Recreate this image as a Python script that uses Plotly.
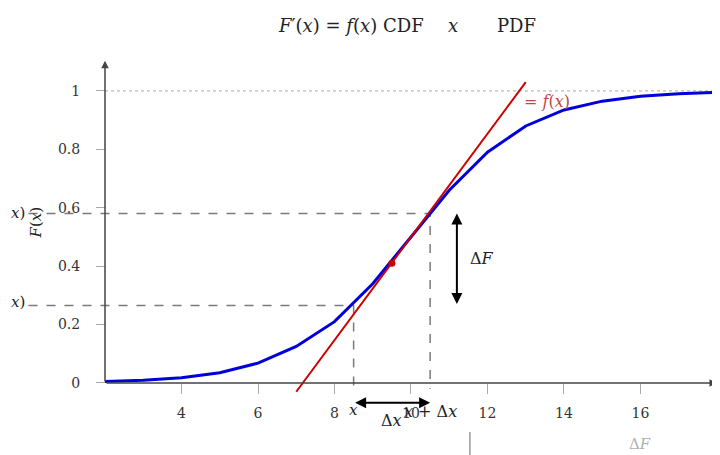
import plotly.graph_objects as go

# CDF at integer x
x_vals = [2, 3, 4, 5, 6, 7, 8, 9, 10, 11, 12, 13, 14, 15, 16, 17, 18]
cdf_vals = [0.005, 0.009, 0.018, 0.035, 0.068, 0.125, 0.21, 0.34, 0.50,
            0.66, 0.79, 0.88, 0.935, 0.965, 0.982, 0.99, 0.995]

# tangent line and touching point
tangent_x = [7, 13]
tangent_y = [-0.03, 1.03]
point_x = [9.5]
point_y = [0.41]

# x, x+dx and the CDF values there
x_lo, x_hi = 8.5, 10.5
F_lo, F_hi = 0.265, 0.58

x_ticks = [4, 6, 8, 10, 12, 14, 16]
y_ticks = [0, 0.2, 0.4, 0.6, 0.8, 1]
y_tick_text = ["0", "0.2", "0.4", "0.6", "0.8", "1"]

# whole page is the plot area (page body has an 8px margin)
X_RANGE = [-0.536, 18.288]
Y_RANGE = [-0.274, 1.284]

SERIF = "DejaVu Serif, Liberation Serif, serif"
DASH_GREY = "#7a7a7a"

fig = go.Figure()

# dotted line at F = 1
fig.add_trace(go.Scatter(x=[2, 18], y=[1, 1], mode="lines",
                         line=dict(color="#bbbbbb", width=1.2, dash="dot"),
                         hoverinfo="skip"))

# dashed guides
fig.add_trace(go.Scatter(x=[0, x_hi, x_hi], y=[F_hi, F_hi, -0.02], mode="lines",
                         line=dict(color=DASH_GREY, width=1.5, dash="dash"),
                         hoverinfo="skip"))
fig.add_trace(go.Scatter(x=[0, x_lo, x_lo], y=[F_lo, F_lo, -0.02], mode="lines",
                         line=dict(color=DASH_GREY, width=1.5, dash="dash"),
                         hoverinfo="skip"))

# CDF curve
fig.add_trace(go.Scatter(x=x_vals, y=cdf_vals, mode="lines",
                         line=dict(color="#0000dd", width=3),
                         hoverinfo="skip"))

# tangent
fig.add_trace(go.Scatter(x=tangent_x, y=tangent_y, mode="lines",
                         line=dict(color="#cc0000", width=2),
                         hoverinfo="skip"))
fig.add_trace(go.Scatter(x=point_x, y=point_y, mode="markers",
                         marker=dict(color="#cc0000", size=7),
                         hoverinfo="skip"))

# faint bits at the bottom
fig.add_trace(go.Scatter(x=[11.54, 11.54], y=[-0.168, -0.25], mode="lines",
                         line=dict(color="#999999", width=1.5),
                         hoverinfo="skip"))

annots = []


def arrow(x, y, ax, ay, color="#444444", width=1.5, both=False, size=1.0):
    annots.append(dict(x=x, y=y, ax=ax, ay=ay, xref="x", yref="y",
                       axref="x", ayref="y", text="", showarrow=True,
                       arrowhead=2, arrowsize=size, arrowwidth=width,
                       arrowcolor=color,
                       arrowside="end+start" if both else "end"))


def label(x, y, text, size=16, color="#222222", xanchor="center", angle=0):
    annots.append(dict(x=x, y=y, xref="x", yref="y", text=text,
                       showarrow=False, xanchor=xanchor, yanchor="middle",
                       textangle=angle,
                       font=dict(family=SERIF, size=size, color=color)))


# axes with arrow tips
arrow(18.0, 0, 2, 0)
arrow(2, 1.103, 2, 0)

# delta arrows
arrow(x_hi, -0.068, x_lo, -0.068, color="black", width=2, both=True, size=1.1)
arrow(11.2, F_hi, 11.2, F_lo, color="black", width=2, both=True, size=1.1)

label(11.5, 0.425, "Δ<i>F</i>", xanchor="left")
label(x_lo, -0.092, "<i>x</i>", size=15)
label(x_hi, -0.097, "<i>x</i> + Δ<i>x</i>")
label(9.5, -0.13, "Δ<i>x</i>")
label(12.9, 0.965, "= <i>f</i>(<i>x</i>)", color="#c04848", xanchor="left")
label(-0.05, 0.582, "<i>x</i>)", size=15, xanchor="right")
label(-0.05, 0.278, "<i>x</i>)", size=15, xanchor="right")
label(0.2, 0.55, "<i>F</i>(<i>x</i>)", size=15, angle=-90)
label(15.99, -0.209, "Δ<i>F</i>", size=15, color="#b0b0b0")

# title, in three pieces where the reference leaves gaps
label(8.43, 1.224, "<i>F</i>′(<i>x</i>) = <i>f</i>(<i>x</i>) CDF", size=18)
label(11.1, 1.224, "<i>x</i>", size=18)
label(12.77, 1.224, "PDF", size=18)

x_pos = (0 - Y_RANGE[0]) / (Y_RANGE[1] - Y_RANGE[0])
y_pos = (2 - X_RANGE[0]) / (X_RANGE[1] - X_RANGE[0])

fig.update_layout(
    width=720, height=455,
    margin=dict(l=0, r=0, t=0, b=0, pad=0),
    paper_bgcolor="white", plot_bgcolor="white",
    showlegend=False,
    annotations=annots,
    xaxis=dict(range=X_RANGE, anchor="free", position=x_pos,
               showgrid=False, zeroline=False, showline=False,
               tickvals=x_ticks, ticks="outside", ticklen=10,
               tickcolor="#aaaaaa", tickwidth=1, ticklabelstandoff=7,
               tickfont=dict(family=SERIF, size=14, color="#333333")),
    yaxis=dict(range=Y_RANGE, anchor="free", position=y_pos,
               showgrid=False, zeroline=False, showline=False,
               tickvals=y_ticks, ticktext=y_tick_text, ticks="outside",
               ticklen=9, tickcolor="#aaaaaa", tickwidth=1,
               ticklabelstandoff=13,
               tickfont=dict(family=SERIF, size=14, color="#333333")),
)

fig.write_html("out.html")
